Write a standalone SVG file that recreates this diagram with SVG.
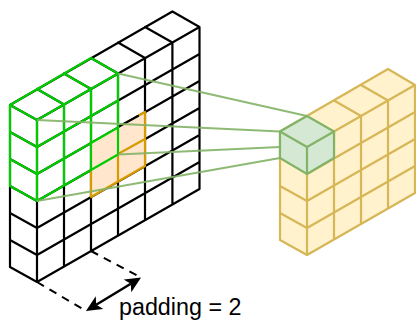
<svg xmlns="http://www.w3.org/2000/svg" width="416" height="320" viewBox="0 0 416 320">
<defs>
<style>
.g{fill:none;stroke-linecap:round;stroke-linejoin:round;stroke-width:2.200}
.k{stroke:#000}.l{stroke:#00cc00}.o{stroke:#d79b00}.y{stroke:#d6b656}.s{stroke:#82b366}
text{font-family:"Liberation Sans",Arial,sans-serif;font-size:23.300px;fill:#000}
</style>
<marker id="h" viewBox="0 0 16 15" refX="4" refY="7.500" markerUnits="userSpaceOnUse" markerWidth="16" markerHeight="15" orient="auto-start-reverse"><path d="M16 7.500L0 0L4 7.500L0 15Z" fill="#000"/></marker>
</defs>
<g id="input-grid">
<path class="g k" d="M10 105V267L37 282L199.500 189V27L172.400 11.500L10 105M37 120V282M64 104.500V266.500M91 89V251M118 73.500V235.500M145 58V220M172.400 42.500V204.500M37 120L199.500 27M37 147L199.500 54M37 174L199.500 81M37 201L199.500 108M37 228L199.500 135M37 255L199.500 162M10 132L37 147M10 159L37 174M10 186L37 201M10 213L37 228M10 240L37 255M37 120L10 105M64 104.500L37 89M91 89L64 73.500M118 73.500L91 58M145 58L118 42.500M172.400 42.500L145 27M199.500 27L172.400 11.500"/>
</g>
<g id="kernel-region">
<path fill="#ffe6cc" d="M91 143L145 112V166L91 197Z"/>
<path class="g o" d="M145 112V166L91 197V170M118 154L145 139M118 154V181M138 116L145 112"/>
<path class="g k" d="M118 127L138 116"/>
</g>
<g id="padding-region">
<path class="g l" d="M10 105V186L37 201L118 154.500V73.500L91 58L10 105M37 120V201M64 104.500V185.500M91 89V170M37 120L118 73.500M37 147L118 100.500M37 174L118 127.500M10 132L37 147M10 159L37 174M37 120L10 105M64 104.500L37 89M91 89L64 73.500"/>
</g>
<g id="output-grid">
<path fill="#fff2cc" d="M280 131.500V240L307 255L415 193V85L388 69Z"/>
<path class="g y" d="M280 131.500V240L307 255L415 193V85L388 69L280 131.500M307 147V255M334 131.500V239.500M361 116V224M388 100.500V208.500M307 147L415 85M307 174L415 112M307 201L415 139M307 228L415 166M280 186L307 201M280 213L307 228M334 100.500L361 116M361 85L388 100.500M388 69L415 85"/>
</g>
<g id="connectors" fill="none" stroke="#82b366" stroke-width="2.200" stroke-opacity=".9">
<path d="M118 73.500L307 116"/>
<path d="M37 120L280 131.500"/>
<path d="M118 154.500L280 147"/>
<path d="M37 201L280 158"/>
</g>
<g id="output-cell">
<path fill="#d5e8d4" d="M280 131.500V158L307 174L334 158V131.500L307 116Z"/>
<path class="g s" d="M280 131.500V158L307 174L334 158V131.500L307 116L280 131.500M307 147V174M280 131.500L307 147L334 131.500"/>
</g>
<g id="padding-dimension">
<path fill="none" stroke="#000" stroke-width="2" stroke-dasharray="8 6.500" d="M37 282L87 311.500M91 251L140 277"/>
<path fill="none" stroke="#000" stroke-width="2.500" marker-start="url(#h)" marker-end="url(#h)" d="M96.200 304.700L130.800 283.800"/>
<text x="119" y="314.500">padding = 2</text>
</g>
</svg>
